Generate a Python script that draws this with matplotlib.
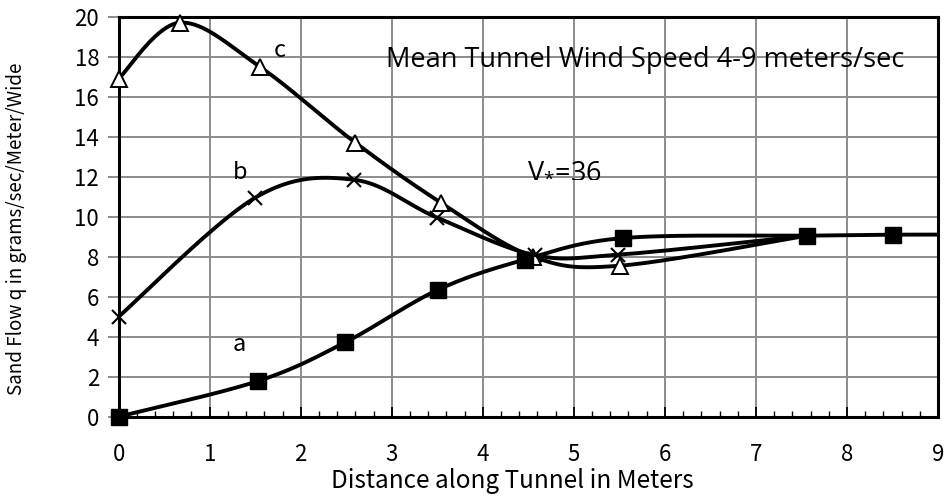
import numpy as np
import matplotlib
matplotlib.use('Agg')
import matplotlib.pyplot as plt
from matplotlib.ticker import MultipleLocator

# ── data ────────────────────────────────────────────────────────
a_x = [0.0, 1.53, 2.49, 3.51, 4.46, 5.54, 7.56, 8.51, 9.5]
a_y = [0.0, 1.78, 3.72, 6.35, 7.85, 8.93, 9.05, 9.1, 9.1]

b_x = [0.0, 1.50, 2.58, 3.50, 4.57, 5.49, 7.56]
b_y = [5.0, 10.95, 11.85, 9.95, 8.08, 8.1, 9.05]

c_x = [0.0, 0.67, 1.55, 2.60, 3.54, 4.55, 5.51, 7.56]
c_y = [16.9, 19.7, 17.5, 13.7, 10.7, 8.0, 7.55, 9.05]

X_TICKS = list(range(0, 10))
Y_TICKS = list(range(0, 21, 2))

XSCALE = 91 / 20   # px per x-unit / px per y-unit, smoothing done in screen space

GOTHIC = 'Noto Sans CJK JP'
plt.rcParams['mathtext.fontset'] = 'custom'
plt.rcParams['mathtext.rm'] = 'Open Sans'
plt.rcParams['mathtext.it'] = 'Open Sans'


def smooth(xs, ys, n=40):
    """Excel-like smoothed line (Catmull-Rom bezier segments)"""
    P = np.column_stack([np.asarray(xs) * XSCALE, np.asarray(ys)])
    t = np.linspace(0, 1, n)[:, None]
    parts = []
    for i in range(len(P) - 1):
        p0 = P[i - 1] if i > 0 else P[i]
        p3 = P[i + 2] if i + 2 < len(P) else P[i + 1]
        p1, p2 = P[i], P[i + 1]
        c1 = p1 + (p2 - p0) / 6
        c2 = p2 - (p3 - p1) / 6
        seg = ((1 - t) ** 3) * p1 + 3 * ((1 - t) ** 2) * t * c1 \
            + 3 * (1 - t) * t ** 2 * c2 + t ** 3 * p2
        parts.append(seg if i == 0 else seg[1:])
    out = np.vstack(parts)
    return out[:, 0] / XSCALE, out[:, 1]


fig = plt.figure(figsize=(9.47, 4.98), dpi=100)
ax = fig.add_axes([0.1253, 0.1633, 0.9905 - 0.1253, 0.9665 - 0.1633])

ax.set_xlim(0, 9)
ax.set_ylim(0, 20)

# grid
ax.grid(True, color='#8c8c8c', linewidth=1.4, zorder=0)
ax.set_axisbelow(True)

# curves
for xs, ys in [(c_x, c_y), (b_x, b_y), (a_x, a_y)]:
    sx, sy = smooth(xs, ys)
    ax.plot(sx, sy, color='black', linewidth=2.8, zorder=3)

# markers (last point of b and c sits under the square of a)
ax.plot(c_x[:-1], c_y[:-1], linestyle='none', marker='^', markersize=11,
        markerfacecolor='white', markeredgecolor='black',
        markeredgewidth=1.4, zorder=4, clip_on=False)
ax.plot(b_x[:-1], b_y[:-1], linestyle='none', marker='x', markersize=10,
        markeredgecolor='black', markeredgewidth=1.5, zorder=4, clip_on=False)
ax.plot(a_x[:-1], a_y[:-1], linestyle='none', marker='s', markersize=12,
        color='black', zorder=5, clip_on=False)

# ticks
ax.set_xticks(X_TICKS)
ax.xaxis.set_minor_locator(MultipleLocator(0.2))
ax.set_yticks(Y_TICKS)
ax.tick_params(axis='x', which='major', direction='in', length=7, width=1.3,
               pad=19, labelsize=16)
ax.tick_params(axis='x', which='minor', direction='in', length=4, width=1.0)
ax.tick_params(axis='y', which='major', direction='out', length=8, width=1.4,
               color='#8c8c8c', pad=6, labelsize=16)
for lab in ax.get_xticklabels() + ax.get_yticklabels():
    lab.set_family(GOTHIC)

for s in ax.spines.values():
    s.set_linewidth(2.2)
    s.set_color('black')

fig.text(512.5 / 947, 1 - 481 / 498, 'Distance along Tunnel in Meters',
         fontsize=17.5, family=GOTHIC, ha='center', va='center')
fig.text(17 / 947, 1 - 228.5 / 498, 'Sand Flow q in grams/sec/Meter/Wide',
         fontsize=13.5, family=GOTHIC, rotation=90, ha='center', va='center')

# annotations
ax.text(1.77, 18.3, 'c', fontsize=17, family=GOTHIC, ha='center', va='center')
ax.text(1.33, 12.2, 'b', fontsize=17, family=GOTHIC, ha='center', va='center')
ax.text(1.33, 3.6, 'a', fontsize=17, family=GOTHIC, ha='center', va='center')
ax.text(4.48, 12.0, r'V$_{*}$=36', fontsize=19.5, family='Open Sans',
        ha='left', va='baseline')
ax.text(2.94, 17.5, 'Mean Tunnel Wind Speed 4-9 meters/sec', fontsize=19.5,
        family='Open Sans', ha='left', va='baseline')

fig.savefig('out.png', dpi=100)
